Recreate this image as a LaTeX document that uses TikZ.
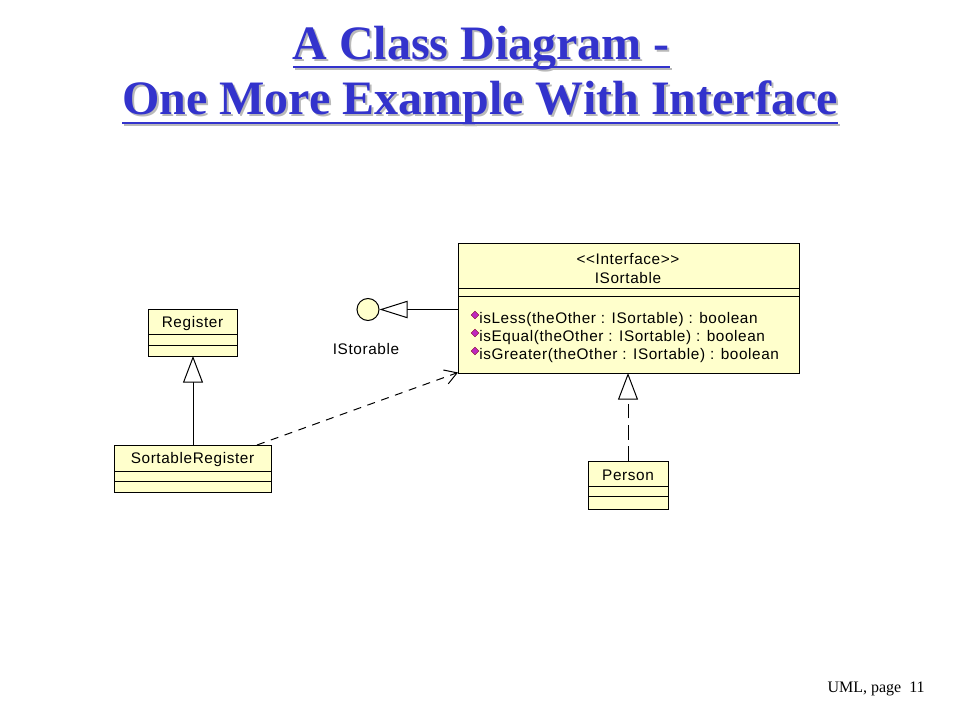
\documentclass[tikz,border=0pt]{standalone}
\usepackage{fontspec}
\setmainfont{Liberation Serif}
\newfontfamily\umlfont[LetterSpace=4]{Liberation Sans}
\usetikzlibrary{arrows.meta,shapes.geometric}
\definecolor{titleblue}{RGB}{51,51,204}
\definecolor{boxfill}{RGB}{255,255,204}
\definecolor{opfill}{RGB}{190,40,190}
\tikzset{
  umlbox/.style={draw=black, fill=boxfill, line width=0.75pt, inner sep=0pt, anchor=north west},
  umltext/.style={font=\umlfont\fontsize{11.5pt}{13pt}\selectfont, inner sep=0pt, yshift=-1.2pt},
  optext/.style={umltext, anchor=west},
  opicon/.style={diamond, fill=opfill, draw=purple!70!black, line width=0.3pt, minimum size=6pt, inner sep=0pt},
  conn/.style={line width=0.75pt},
  gen/.style={conn, -{Triangle[open, length=20pt, width=15pt, fill=white]}},
  dep/.style={conn, dash pattern=on 6pt off 5pt, -{Straight Barb[length=9pt, width=11pt]}},
  titletext/.style={font=\bfseries\fontsize{36pt}{40pt}\selectfont, inner sep=0pt},
  uline/.style={line width=2.2pt}
}
\begin{document}
\begin{tikzpicture}[x=0.75pt, y=-0.75pt]
\useasboundingbox (0,0) rectangle (960,720);
% title with shadow
\node[titletext, text=gray!55] (t1s) at (483,50) {A Class Diagram -};
\draw[uline, gray!55] (295,69) -- (672,69);
\node[titletext, text=titleblue] (t1) at (481,48) {A Class Diagram -};
\draw[uline, titleblue] (293,67) -- (670,67);
\node[titletext, text=gray!55] (t2s) at (482,105) {One More Example With Interface};
\draw[uline, gray!55] (124,125) -- (840,125);
\node[titletext, text=titleblue] (t2) at (480,103) {One More Example With Interface};
\draw[uline, titleblue] (122,123) -- (838,123);

% ISortable interface
\node[umlbox, minimum width=255.75pt, minimum height=97.5pt] (isort) at (458,243) {};
\draw[conn] (458,289) -- (799,289);
\draw[conn] (458,297) -- (799,297);
\node[umltext] (stereo) at (628,257) {<{}<Interface>{}>};
\node[umltext] (isname) at (628,276) {ISortable};
\node[opicon] (ic1) at (475,315) {};
\node[optext] (op1) at (479,318) {isLess(theOther : ISortable) : boolean};
\node[opicon] (ic2) at (475,333) {};
\node[optext] (op2) at (479,336) {isEqual(theOther : ISortable) : boolean};
\node[opicon] (ic3) at (475,351) {};
\node[optext] (op3) at (479,354) {isGreater(theOther : ISortable) : boolean};

% lollipop IStorable
\node[circle, draw=black, fill=boxfill, line width=0.75pt, minimum size=16.5pt, inner sep=0pt] (istor) at (368,309.5) {};
\node[umltext] (istorlbl) at (366,347) {IStorable};
\coordinate (isortw) at (458,309.5);
\draw[conn, -{Triangle[open, length=21pt, width=13pt, fill=white]}] (isortw) -- (istor.east);

% Register
\node[umlbox, minimum width=66.75pt, minimum height=35.25pt] (reg) at (148,309) {};
\draw[conn] (148,334) -- (237,334);
\draw[conn] (148,345) -- (237,345);
\node[umltext] (regname) at (192.5,322) {Register};

% SortableRegister
\node[umlbox, minimum width=117.75pt, minimum height=35.25pt] (sreg) at (114,445) {};
\draw[conn] (114,471) -- (271,471);
\draw[conn] (114,481) -- (271,481);
\node[umltext] (sregname) at (192.5,458) {SortableRegister};

% Person
\node[umlbox, minimum width=60pt, minimum height=36pt] (pers) at (588,461) {};
\draw[conn] (588,486) -- (668,486);
\draw[conn] (588,496) -- (668,496);
\node[umltext] (persname) at (628,474) {Person};

% connectors
\coordinate (sregtop) at (193,445);
\coordinate (regbot) at (193,356);
\draw[gen] (sregtop) -- (regbot);
\coordinate (sregdep) at (257,445);
\coordinate (isortcorner) at (458,372.5);
\draw[dep] (sregdep) -- (isortcorner);
\coordinate (perstop) at (628,461);
\coordinate (isortbot) at (628,373);
\draw[conn, dash pattern=on 11pt off 5pt, -{Triangle[open, length=20pt, width=15pt, fill=white]}] (perstop) -- (isortbot);

% footer
\node[font=\fontsize{12pt}{14pt}\selectfont, inner sep=0pt, anchor=east] (footer) at (925,689) {UML, page\ \ 11};
\end{tikzpicture}
\end{document}
